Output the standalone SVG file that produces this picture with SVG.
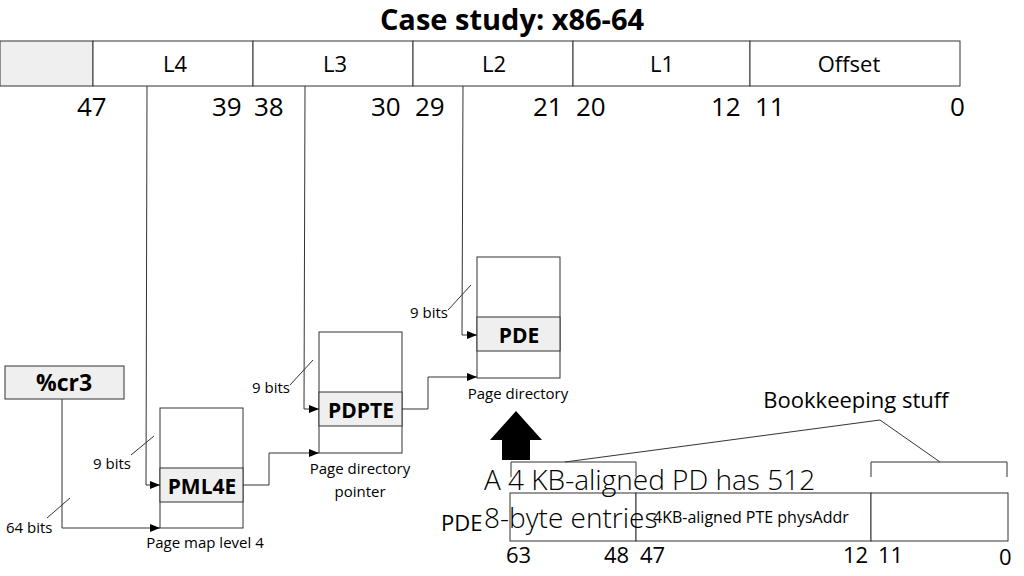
<svg xmlns="http://www.w3.org/2000/svg" width="1024" height="576" viewBox="0 0 1024 576">
<style>
text{font-family:"Open Sans","Liberation Sans",sans-serif;fill:#000}
.b{fill:#fff;stroke:#333;stroke-width:1}
.g{fill:#efefef;stroke:#333;stroke-width:1}
.l{fill:none;stroke:#333;stroke-width:1}
.n{font-size:26px}
.s{font-size:15px}
</style>
<defs><marker id="a" markerWidth="10" markerHeight="8" refX="10" refY="4" orient="auto" markerUnits="userSpaceOnUse"><path d="M0,0L10,4L0,8z" fill="#000"/></marker></defs>
<text x="512" y="30" font-size="29" font-weight="bold" text-anchor="middle">Case study: x86-64</text>
<g id="vaddr">
<rect class="g" x="0" y="41" width="93" height="45" stroke="none"/>
<rect class="b" x="93" y="41" width="160" height="45"/><rect class="b" x="253" y="41" width="160" height="45"/><rect class="b" x="413" y="41" width="160" height="45"/><rect class="b" x="573" y="41" width="177" height="45"/><rect class="b" x="750" y="41" width="210" height="45"/>
<g font-size="22" text-anchor="middle"><text x="175" y="72">L4</text><text x="335" y="72">L3</text><text x="494" y="72">L2</text><text x="662" y="72">L1</text><text x="849" y="72">Offset</text></g>
<g class="n"><text x="77" y="116">47</text><text x="212" y="116">39</text><text x="254" y="116">38</text><text x="371" y="116">30</text><text x="415" y="116">29</text><text x="533" y="116">21</text><text x="576" y="116">20</text><text x="711" y="116">12</text><text x="755" y="116">11</text><text x="950" y="116">0</text></g>
</g>
<g id="cr3"><rect class="g" x="5" y="366" width="119" height="33"/><text x="64" y="391" font-size="23" font-weight="bold" text-anchor="middle">%cr3</text></g>
<g id="pml4"><rect class="b" x="160" y="408" width="83" height="120"/><rect class="g" x="160" y="468" width="83" height="34"/><text x="202" y="494" font-size="21" font-weight="bold" text-anchor="middle">PML4E</text><text x="205" y="548" class="s" text-anchor="middle">Page map level 4</text></g>
<g id="pdpt"><rect class="b" x="319" y="332" width="83" height="121"/><rect class="g" x="319" y="392" width="83" height="34"/><text x="361" y="418" font-size="21" font-weight="bold" text-anchor="middle">PDPTE</text><text x="360" y="474" class="s" text-anchor="middle">Page directory</text><text x="360" y="497" class="s" text-anchor="middle">pointer</text></g>
<g id="pd"><rect class="b" x="477" y="257" width="83" height="121"/><rect class="g" x="477" y="317" width="83" height="34"/><text x="519" y="343" font-size="21" font-weight="bold" text-anchor="middle">PDE</text><text x="518" y="399" class="s" text-anchor="middle">Page directory</text></g>
<g id="connectors" class="l">
<polyline class="l" points="147,86 146,485 160,485" marker-end="url(#a)"/>
<polyline class="l" points="305,86 304,409 319,409" marker-end="url(#a)"/>
<polyline class="l" points="463,86 462,335 477,335" marker-end="url(#a)"/>
<polyline class="l" points="62,399 62,528 160,528" marker-end="url(#a)"/>
<polyline class="l" points="243,485 269,485 269,453 319,453" marker-end="url(#a)"/>
<polyline class="l" points="402,409 428,409 428,377 477,377" marker-end="url(#a)"/>
<line class="l" x1="47" y1="518" x2="70" y2="498"/><line class="l" x1="131" y1="455" x2="154" y2="436"/><line class="l" x1="290" y1="385" x2="313" y2="360"/><line class="l" x1="448" y1="310" x2="471" y2="285"/>
<polyline class="l" points="511,477 511,462 636,462 636,477"/><polyline class="l" points="871,477 871,462 1007,462 1007,477"/>
<polyline class="l" points="565,462 880,420 940,462"/>
</g>
<g class="s"><text x="6" y="533">64 bits</text><text x="93" y="469">9 bits</text><text x="252" y="393">9 bits</text><text x="410" y="318">9 bits</text></g>
<path d="M490,440L516,411L542,440L530,440L530,460L502,460L502,440z" fill="#000"/>
<text x="856" y="408" font-size="22" text-anchor="middle">Bookkeeping stuff</text>
<g id="pde"><rect class="b" x="510" y="493" width="126" height="48"/><rect class="b" x="636" y="493" width="235" height="48"/><rect class="b" x="871" y="493" width="137" height="48"/>
<text x="653" y="523" font-size="16">4KB-aligned PTE physAddr</text>
<text x="441" y="531" font-size="22">PDE</text>
<g font-size="22"><text x="506" y="563">63</text><text x="604" y="563">48</text><text x="640" y="563">47</text><text x="843" y="563">12</text><text x="878" y="563">11</text><text x="999" y="565">0</text></g></g>
<g font-size="28" font-weight="300" fill="#222"><text x="484" y="490">A 4 KB-aligned PD has 512</text><text x="484" y="528">8-byte entries</text></g>
</svg>
